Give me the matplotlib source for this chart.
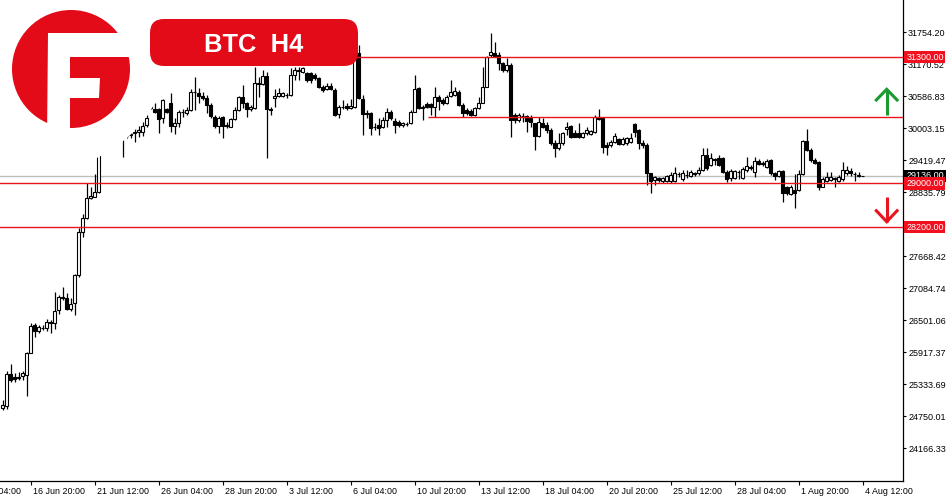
import matplotlib
matplotlib.use('Agg')
import matplotlib.pyplot as plt
from matplotlib.patches import Circle, Polygon, FancyBboxPatch
from matplotlib.transforms import ScaledTranslation
import numpy as np

plt.rcParams['font.family'] = ['Liberation Sans', 'DejaVu Sans']

## BTC H4 candles, oldest first
opens = [24901, 24937, 25521, 25466, 25466, 25485, 25503, 25904, 26415, 26305,
         26360, 26360, 26470, 26452, 26689, 26926, 26907, 26707, 26816, 27327,
         28111, 28367, 28731, 28750, 28841, 29607, 29790, 29935, 29826, 29972,
         29899, 29862, 29881, 29917, 29941, 29941, 30063, 30373, 30349, 30349,
         30185, 30349, 30459, 30045, 30105, 30306, 30287, 30337, 30665, 30652,
         30592, 30550, 30428, 30214, 30045, 30203, 30063, 30032, 30167, 30337,
         30568, 30459, 30349, 30368, 30835, 30811, 30957, 30349, 30550, 30592,
         30592, 30610, 30610, 30975, 31066, 31035, 31006, 31006, 30975, 30915,
         30762, 30714, 30774, 30701, 30258, 30397, 30410, 30368, 30397, 31371,
         30537, 30276, 30276, 30032, 30063, 30032, 30154, 30295, 30136, 30112,
         30063, 30081, 30094, 30295, 30732, 30397, 30441, 30441, 30397, 30579,
         30519, 30459, 30592, 30610, 30670, 30428, 30337, 30324, 30245, 30368,
         30470, 30762, 31340, 31382, 31340, 31188, 31066, 31157, 30245, 30154,
         30227, 30227, 30185, 30094, 29862, 30094, 30063, 29972, 29729, 29638,
         29729, 29990, 30045, 29912, 29912, 29850, 29912, 29899, 29941, 30214,
         30185, 29698, 29707, 29758, 29802, 29716, 29729, 29758, 30076, 29972,
         29740, 29698, 29182, 29060, 29091, 29047, 29047, 29047, 29047, 29169,
         29073, 29151, 29133, 29182, 29182, 29242, 29516, 29333, 29437, 29456,
         29456, 29211, 29091, 29091, 29211, 29091, 29242, 29291, 29211, 29412,
         29364, 29302, 29425, 29182, 29133, 29230, 28938, 28805, 28877, 28877,
         29169, 29777, 29607, 29425, 29394, 28938, 29047, 29060, 29091, 29047,
         29073, 29182, 29230, 29169, 29151, 29133]
highs = [25047, 25576, 25704, 25539, 25558, 25576, 25922, 26452, 26452, 26415,
         26415, 26524, 26506, 27017, 26962, 27108, 26999, 26907, 27345, 28184,
         28440, 29005, 28932, 29169, 29790, 29935, 30063, 30008, 30081, 30045,
         30008, 29972, 29972, 30008, 30045, 30123, 30245, 30519, 30470, 30373,
         30537, 30368, 30641, 30185, 30337, 30349, 30397, 30714, 30944, 30732,
         30670, 30610, 30459, 30245, 30227, 30227, 30123, 30185, 30397, 30592,
         30793, 30488, 30428, 31126, 30944, 31066, 31035, 30397, 30714, 30732,
         30670, 30641, 31097, 31126, 31126, 31126, 31035, 31035, 31006, 30944,
         30793, 30824, 30824, 30732, 30428, 30519, 30459, 30537, 31340, 31522,
         30610, 30337, 30306, 30094, 30185, 30214, 30368, 30337, 30185, 30154,
         30123, 30118, 30337, 30975, 30762, 30428, 30488, 30459, 30762, 30610,
         30550, 30610, 30884, 30762, 30701, 30459, 30368, 30349, 30397, 30579,
         31126, 31322, 31736, 31582, 31400, 31218, 31280, 31188, 30276, 30276,
         30276, 30245, 30245, 30105, 30214, 30185, 30123, 30003, 29790, 29912,
         29941, 30123, 30063, 29972, 30094, 29941, 30032, 29972, 30245, 30349,
         30203, 29758, 29790, 29917, 29820, 29850, 29850, 29912, 30094, 29985,
         29790, 29729, 29193, 29133, 29120, 29109, 29151, 29211, 29291, 29211,
         29242, 29242, 29242, 29211, 29302, 29638, 29638, 29547, 29456, 29516,
         29485, 29242, 29255, 29242, 29242, 29291, 29485, 29333, 29485, 29437,
         29412, 29437, 29437, 29211, 29242, 29242, 28950, 28969, 29169, 29242,
         29790, 29985, 29638, 29456, 29412, 29109, 29211, 29211, 29120, 29151,
         29394, 29315, 29273, 29211, 29211, 29142]
lows = [24865, 24883, 25375, 25375, 25412, 25412, 25120, 25904, 26196, 26269,
        26324, 26305, 26269, 26342, 26616, 26871, 26689, 26670, 26597, 27291,
        28020, 28348, 28722, 28750, 28823, 29571, 29698, 29753, 29771, 29790,
        29479, 29835, 29835, 29758, 29850, 29862, 30032, 30346, 30287, 29923,
        30099, 30276, 29941, 29899, 30032, 30214, 30245, 30324, 30337, 30470,
        30519, 30287, 30185, 30003, 29912, 29820, 30003, 30021, 30154, 30324,
        30368, 30203, 30324, 30349, 30568, 30793, 29456, 30245, 30397, 30568,
        30579, 30550, 30592, 30884, 30884, 31006, 30853, 30824, 30884, 30732,
        30670, 30701, 30701, 30233, 30185, 30355, 30337, 30355, 30379, 30537,
        29881, 30185, 29881, 29972, 29881, 30003, 30032, 30154, 29912, 30032,
        30032, 30045, 30076, 30295, 30355, 30154, 30379, 30245, 30214, 30337,
        30428, 30446, 30579, 30592, 30410, 30214, 30245, 30227, 30227, 30349,
        30459, 30751, 31309, 31309, 31066, 31035, 31035, 29850, 30094, 30123,
        30123, 29941, 30032, 29607, 29850, 30003, 29912, 29698, 29474, 29607,
        29698, 29881, 29820, 29839, 29820, 29820, 29881, 29881, 29912, 30154,
        29547, 29516, 29667, 29729, 29698, 29698, 29698, 29729, 29850, 29620,
        29638, 28969, 28817, 28969, 29029, 29011, 29029, 29011, 29029, 29109,
        29047, 29091, 29109, 29133, 29151, 29230, 29242, 29315, 29333, 29315,
        29193, 29029, 29047, 29073, 29073, 29073, 29211, 29242, 29109, 29333,
        29315, 29273, 29151, 29060, 29109, 28664, 28786, 28786, 28544, 28865,
        29151, 29594, 29394, 29352, 28877, 28927, 29029, 29047, 28927, 29029,
        29047, 29151, 29133, 29047, 29109, 29124]
closes = [24956, 25521, 25412, 25430, 25457, 25539, 25904, 26397, 26305, 26379,
          26369, 26470, 26452, 26670, 26926, 26907, 26707, 26798, 27327, 28111,
          28367, 28731, 28768, 28841, 29607, 29790, 29935, 29826, 29972, 29881,
          29826, 29917, 29899, 29935, 29972, 30050, 30185, 30446, 30306, 30172,
          30519, 30306, 30045, 30105, 30306, 30300, 30337, 30670, 30660, 30592,
          30550, 30428, 30227, 30045, 30185, 30045, 30045, 30167, 30337, 30579,
          30459, 30349, 30397, 30824, 30811, 30957, 30349, 30337, 30592, 30641,
          30641, 30605, 30975, 31066, 31057, 31103, 30884, 30884, 30915, 30762,
          30701, 30774, 30714, 30245, 30397, 30392, 30368, 30410, 31309, 30550,
          30258, 30270, 30003, 30026, 30003, 30154, 30295, 30196, 30063, 30063,
          30094, 30076, 30295, 30720, 30368, 30368, 30397, 30397, 30579, 30506,
          30459, 30579, 30670, 30689, 30428, 30287, 30276, 30245, 30368, 30459,
          30762, 31309, 31400, 31322, 31188, 31066, 31157, 30154, 30154, 30245,
          30222, 30141, 30123, 29862, 30123, 30032, 29972, 29729, 29638, 29729,
          29912, 30032, 29850, 29850, 29850, 29912, 29972, 29954, 30214, 30167,
          29662, 29656, 29753, 29862, 29716, 29802, 29820, 29831, 29941, 29740,
          29698, 29182, 29047, 29109, 29060, 29091, 29133, 29151, 29182, 29164,
          29182, 29146, 29211, 29177, 29242, 29516, 29273, 29456, 29432, 29333,
          29211, 29073, 29230, 29230, 29206, 29255, 29315, 29286, 29412, 29352,
          29359, 29412, 29182, 29133, 29230, 28817, 28817, 28938, 28817, 29169,
          29777, 29607, 29425, 29375, 28938, 29073, 29109, 29109, 29086, 29109,
          29242, 29242, 29182, 29164, 29133, 29136]

## axis labels
x_tick_pos = [7, 23, 39, 55, 71, 87, 103, 119, 135, 151, 167, 183, 199, 215]
x_tick_labels = ['16 Jun 20:00', '21 Jun 12:00', '26 Jun 04:00', '28 Jun 20:00',
                 '3 Jul 12:00', '6 Jul 04:00', '10 Jul 20:00', '13 Jul 12:00',
                 '18 Jul 04:00', '20 Jul 20:00', '25 Jul 12:00', '28 Jul 04:00',
                 '1 Aug 20:00', '4 Aug 12:00']
y_tick_labels = ['24166.33', '24750.01', '25333.69', '25917.37', '26501.06',
                 '27084.74', '27668.42', '28252.10', '28835.79', '29419.47',
                 '30003.15', '30586.83', '31170.52', '31754.20']
y_ticks = [float(s) for s in y_tick_labels]

## levels
levels = [31300, 29000, 28200]
mid_level = 30200
mid_level_start = 106.25
last_price = 29136

RED = '#E30B17'
LINE_RED = '#E8141E'
GREEN = '#1A9A30'

fig = plt.figure(figsize=(9.5, 5), dpi=100)
ax = fig.add_axes([0, 19 / 500, 903 / 950, 481 / 500])
ax.set_xlim(-0.675, 225.075)
ax.set_ylim(23570, 32343)

## candles
o = np.array(opens)
c = np.array(closes)
idx = np.arange(len(o))
bull = c >= o
ax.vlines(idx, lows, highs, color='black', lw=0.9, zorder=2)
ax.bar(idx[bull], (c - o)[bull], bottom=o[bull], width=0.72,
       facecolor='white', edgecolor='black', lw=0.8, zorder=3)
ax.bar(idx[~bull], (o - c)[~bull], bottom=c[~bull], width=0.72,
       facecolor='black', edgecolor='black', lw=0.8, zorder=3)

## horizontal levels
ax.axhline(last_price, color='#BEBEBE', lw=1, zorder=1)
for lv in levels:
    ax.axhline(lv, color=LINE_RED, lw=1, zorder=4)
ax.hlines(mid_level, mid_level_start, 225.075, color=LINE_RED, lw=1, zorder=4)

## arrows (up from the 30200 line, down from the 29000 line)
xa = 221
ax.plot([xa, xa], [mid_level + 45, 30714], color=GREEN, lw=2.2, solid_capstyle='butt', zorder=5)
ax.plot([xa - 2.6, xa, xa + 2.6], [30519, 30714, 30519], color=GREEN, lw=2.2,
        solid_joinstyle='miter', zorder=5)
ax.plot([xa, xa], [28758, 28299], color=LINE_RED, lw=2.2, solid_capstyle='butt', zorder=5)
ax.plot([xa - 2.6, xa, xa + 2.6], [28500, 28299, 28500], color=LINE_RED, lw=2.2,
        solid_joinstyle='miter', zorder=5)

## axes style
for s in ['top', 'left']:
    ax.spines[s].set_visible(False)
for s in ['right', 'bottom']:
    ax.spines[s].set_linewidth(0.9)
ax.yaxis.tick_right()
ax.set_yticks(y_ticks)
ax.set_yticklabels(y_tick_labels)
ax.set_xticks(x_tick_pos)
ax.set_xticklabels(x_tick_labels)
ax.tick_params(axis='y', length=2.5, width=0.8, pad=1.2, labelsize=6.5)
ax.tick_params(axis='x', length=3, width=0.8, pad=1.5, labelsize=6.4)
shift = ScaledTranslation(0.02, 0, fig.dpi_scale_trans)
for lab in ax.get_xticklabels():
    lab.set_ha('left')
    lab.set_transform(lab.get_transform() + shift)
ax.annotate('14 Jun 04:00', xy=(-9, 0), xycoords=('data', 'axes fraction'),
            xytext=(1.44, -4.5), textcoords='offset points', ha='left', va='top',
            fontsize=6.4, annotation_clip=False)

## price labels on the right
ytr = ax.get_yaxis_transform()
ax.text(1.0035, last_price, '29136.00', transform=ytr, ha='left', va='center',
        color='white', fontsize=6.5, zorder=6, clip_on=False,
        bbox=dict(boxstyle='square,pad=0.2', fc='black', ec='none'))
for lv in levels:
    ax.text(1.0035, lv, f'{lv:.2f}', transform=ytr, ha='left', va='center',
            color='white', fontsize=6.5, zorder=7, clip_on=False,
            bbox=dict(boxstyle='square,pad=0.2', fc='#F2101E', ec='none'))

## logo + title box, in pixel coords
ov = fig.add_axes([0, 0, 1, 1])
ov.set_xlim(0, 950)
ov.set_ylim(500, 0)
ov.axis('off')
ov.add_patch(Circle((40, 40), 131, fc='white', ec='none'))
ov.add_patch(Circle((71, 69), 59, fc=RED, ec='none'))
ov.add_patch(Polygon([(48, 33), (70, 33), (70, 140), (47, 140)], fc='white', ec='none'))
ov.add_patch(Polygon([(48, 33), (140, 33), (140, 57), (48, 57)], fc='white', ec='none'))
ov.add_patch(Polygon([(70, 78), (100, 78), (99, 98), (70, 98)], fc='white', ec='none'))
ov.add_patch(FancyBboxPatch((150, 19), 208, 47, boxstyle='round,pad=0,rounding_size=14',
                            fc=RED, ec='none'))
ov.text(253.5, 51.7, 'BTC  H4', color='white', fontsize=18.4, fontweight='bold',
        ha='center', va='baseline')

plt.savefig('out.png', dpi=100)
